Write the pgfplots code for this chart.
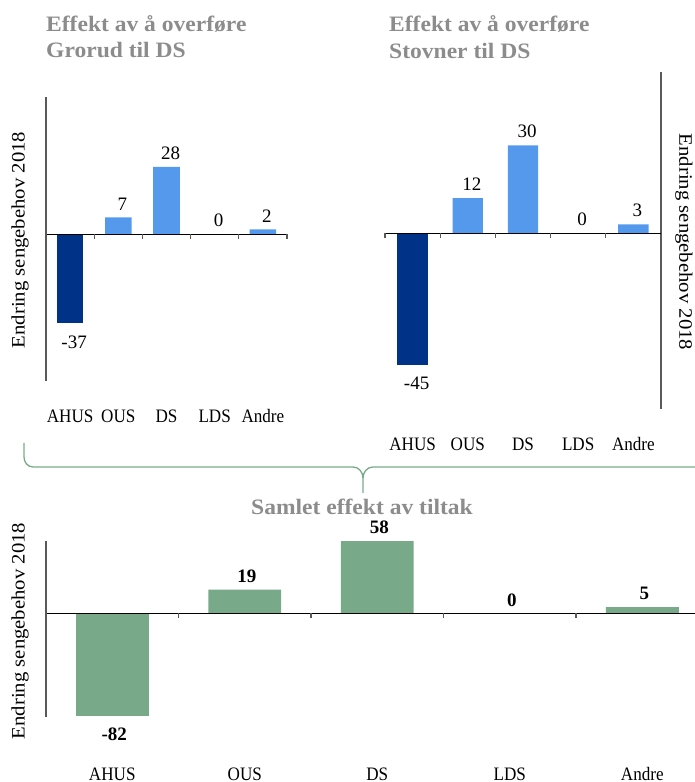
\documentclass[border=0pt]{standalone}
\usepackage{fontspec}
\setmainfont{Liberation Serif}
\newfontfamily\widefont{Liberation Serif}[FakeStretch=1.09]
\newfontfamily\titlefam{Liberation Serif}[FakeStretch=1.07]
\newfontfamily\tickfam{Liberation Serif}[FakeStretch=0.9]
\usepackage{pgfplots}
\pgfplotsset{compat=1.18}

\definecolor{darkblue}{RGB}{0,51,135}
\definecolor{lightblue}{RGB}{85,153,236}
\definecolor{barGreen}{RGB}{120,170,138}
\definecolor{titlegray}{RGB}{140,140,140}
\definecolor{axisgray}{RGB}{89,89,89}

\newcommand{\lblfont}{\fontsize{19}{22}\selectfont}
\newcommand{\tickfont}{\tickfam\fontsize{19}{22}\selectfont}
\newcommand{\ylblfont}{\widefont\fontsize{19}{22}\selectfont}
\newcommand{\titlefont}{\titlefam\bfseries\fontsize{22}{26}\selectfont}

\pgfplotsset{
  panel/.style={
    scale only axis,
    anchor=south west,
    clip=false,
    xmin=-0.5, xmax=4.5,
    axis x line*=bottom,
    axis line style={draw=axisgray, line width=1.2pt},
    x axis line style={draw=none},
    xtick={0,...,4},
    xticklabels={AHUS,OUS,DS,LDS,Andre},
    xtick style={draw=none},
    ytick=\empty,
    xticklabel style={anchor=base, yshift=-37pt, font=\tickfont},
    /pgf/number format/assume math mode=true,
    ybar, bar width=0.55,
    every axis plot/.append style={bar shift=0pt, draw=none},
    nodes near coords,
    every node near coord/.append style={font=\lblfont, inner sep=0pt, xshift=4pt, text=black},
  },
  posnodes/.style={every node near coord/.append style={yshift=7pt}},
  negnodes/.style={every node near coord/.append style={yshift=-12pt}},
}

\newcommand{\zeroline}[1]{%
  \draw[black, line width=1.2pt] (axis cs:-0.5,0) -- (axis cs:#1,0);
  \pgfplotsinvokeforeach{-0.5,0.5,1.5,2.5,3.5}{\draw[axisgray, line width=1.2pt] (axis cs:##1,0) -- ++(0pt,-5pt);}
}

\begin{document}
\begin{tikzpicture}[x=1pt,y=1pt]
\useasboundingbox (0,0) rectangle (694,782);

% titles
\node[anchor=base west, text=titlegray, font=\titlefont, inner sep=0pt] at (46,750) {Effekt av å overføre};
\node[anchor=base west, text=titlegray, font=\titlefont, inner sep=0pt] at (46,724) {Grorud til DS};
\node[anchor=base west, text=titlegray, font=\titlefont, inner sep=0pt] at (389,750) {Effekt av å overføre};
\node[anchor=base west, text=titlegray, font=\titlefont, inner sep=0pt] at (389,723) {Stovner til DS};
\node[anchor=base, text=titlegray, font=\titlefont, inner sep=0pt] at (362,267) {Samlet effekt av tiltak};

% y labels
\node[rotate=90, font=\ylblfont, inner sep=0pt] at (20,542) {Endring sengebehov 2018};
\node[rotate=-90, font=\ylblfont, inner sep=0pt] at (684,540) {Endring sengebehov 2018};
\node[rotate=90, font=\ylblfont, inner sep=0pt] at (20,151) {Endring sengebehov 2018};

% Grorud
\begin{axis}[panel, at={(46pt,401pt)}, width=241pt, height=284pt,
  ymin=-61, ymax=57, axis y line*=left]
  \addplot[fill=darkblue, negnodes] coordinates {(0,-37)};
  \addplot[fill=lightblue, posnodes] coordinates {(1,7) (2,28) (3,0) (4,2)};
  \zeroline{4.5}
  \draw[axisgray, line width=1.2pt] (axis cs:4.5,0) -- ++(0pt,-5pt);
\end{axis}

% Stovner
\begin{axis}[panel, at={(385pt,373pt)}, width=276pt, height=337pt,
  ymin=-60, ymax=55, axis y line*=right]
  \addplot[fill=darkblue, negnodes] coordinates {(0,-45)};
  \addplot[fill=lightblue, posnodes] coordinates {(1,12) (2,30) (3,0) (4,3)};
  \zeroline{4.5}
\end{axis}

% Samlet
\begin{axis}[panel, at={(46pt,65pt)}, width=648pt, height=176pt,
  xmin=-0.5, xmax=4.39, ymin=-83, ymax=58, axis y line*=left,
  xticklabel style={yshift=-22pt},
  every node near coord/.append style={font=\lblfont\bfseries, xshift=-2pt}]
  \addplot[fill=barGreen, negnodes] coordinates {(0,-82)};
  \addplot[fill=barGreen, posnodes] coordinates {(1,19) (2,58) (3,0) (4,5)};
  \zeroline{4.6}
\end{axis}

% brace
\draw[barGreen, line width=1.3pt] (24,339) -- (24,325) to[out=-90,in=180] (33,315) -- (353,315)
  to[out=0,in=90] (363,304) -- (363,289);
\draw[barGreen, line width=1.3pt] (363,304) to[out=90,in=180] (373,315) -- (700,315);
\end{tikzpicture}
\end{document}
